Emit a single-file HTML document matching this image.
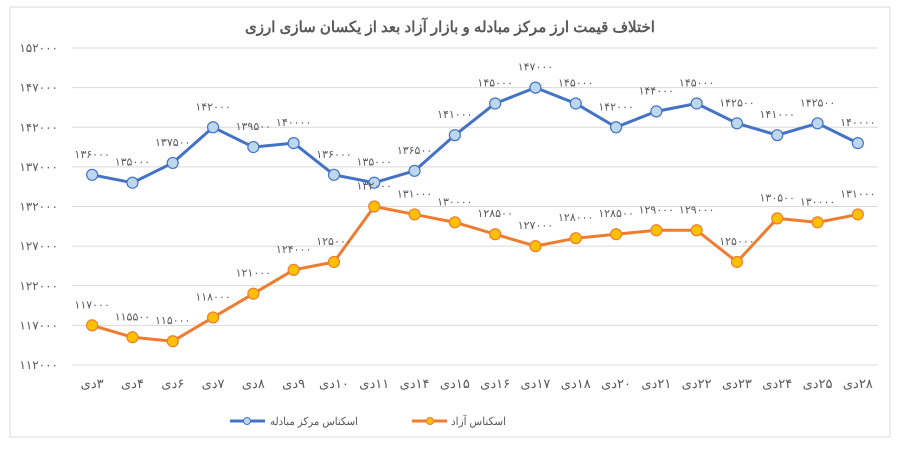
<!DOCTYPE html>
<html><head><meta charset="utf-8"><style>
body{margin:0;background:#fff;}
svg text{font-family:"Liberation Sans","Noto Sans CJK SC",sans-serif;}
</style></head><body>
<svg width="900" height="445" xmlns="http://www.w3.org/2000/svg">
<rect x="10" y="7" width="880" height="430" fill="#fff" stroke="#d9d9d9"/>
<text x="450" y="32" text-anchor="middle" font-size="15" font-weight="bold" fill="#595959" direction="rtl">اختلاف قیمت ارز مرکز مبادله و بازار آزاد بعد از یکسان سازی ارزی</text>
<g id="grid"></g><g id="xl"></g><g id="series"></g>
<g>
<line x1="230" y1="421" x2="265" y2="421" stroke="#4472c4" stroke-width="3"/>
<circle cx="247" cy="421" r="3.5" fill="#bdd7ee" stroke="#4472c4"/>
<text x="358" y="425" text-anchor="start" font-size="11" fill="#595959" direction="rtl" textLength="88" lengthAdjust="spacingAndGlyphs">اسکناس مرکز مبادله</text>
<line x1="412" y1="421" x2="447" y2="421" stroke="#ed7d31" stroke-width="3"/>
<circle cx="430" cy="421" r="3.5" fill="#ffc000" stroke="#ed7d31"/>
<text x="506" y="425" text-anchor="start" font-size="11" fill="#595959" direction="rtl" textLength="55" lengthAdjust="spacingAndGlyphs">اسکناس آزاد</text>
</g>
</svg>
<script>
const categories=[3,4,6,7,8,9,10,11,14,15,16,17,18,20,21,22,23,24,25,28];
const exchangeValues=[136000,135000,137500,142000,139500,140000,136000,135000,136500,141000,145000,147000,145000,142000,144000,145000,142500,141000,142500,140000];
const freeValues=[117000,115500,115000,118000,121000,124000,125000,132000,131000,130000,128500,127000,128000,128500,129000,129000,125000,130500,130000,131000];
const yTicks=[112000,117000,122000,127000,132000,137000,142000,147000,152000];
const NS='http://www.w3.org/2000/svg';
const L=72,R=878,T=48,B=365,yMin=112000,yMax=152000;
const fa=n=>String(n).replace(/\d/g,d=>'۰۱۲۳۴۵۶۷۸۹'[d]);
const band=(R-L)/categories.length;
const xs=i=>L+band*(i+0.5);
const ys=v=>B-(v-yMin)/(yMax-yMin)*(B-T);
function mk(tag,attrs,parent,txt){const e=document.createElementNS(NS,tag);for(const k in attrs)e.setAttribute(k,attrs[k]);if(txt!==undefined)e.textContent=txt;parent.appendChild(e);return e;}
const grid=document.getElementById('grid');
yTicks.forEach(v=>{
 const l=mk('line',{x1:L,x2:R,y1:ys(v),y2:ys(v),stroke:'#d9d9d9'},grid);
 
 
 const t=mk('text',{x:58,y:ys(v)+4,'text-anchor':'end','font-size':12,fill:'#595959'},grid,fa(v));
 
 
});
const xl=document.getElementById('xl');
categories.forEach((c,i)=>{
 const t=mk('text',{x:xs(i),y:388,'text-anchor':'middle','font-size':13,fill:'#595959',direction:'rtl'},xl,fa(c)+'دی');
 
 
});
const sg=document.getElementById('series');
function series(vals,stroke,fill,name){
 const g=mk('g',{},sg);
 
 
 const p=mk('polyline',{points:vals.map((v,i)=>xs(i)+','+ys(v)).join(' '),fill:'none',stroke:stroke,'stroke-width':3,'stroke-linejoin':'round'},g);
 
 
 vals.forEach((v,i)=>{
  const c=mk('circle',{cx:xs(i),cy:ys(v),r:5.5,fill:fill,stroke:stroke,'stroke-width':1.2},g);
  
  
  const t=mk('text',{x:xs(i),y:ys(v)-17,'text-anchor':'middle','font-size':11,fill:'#595959'},g,fa(v));
  
  
 });
}
series(exchangeValues,'#4472c4','#bdd7ee','exchange-series');
series(freeValues,'#ed7d31','#ffc000','free-series');
</script>
</body></html>
